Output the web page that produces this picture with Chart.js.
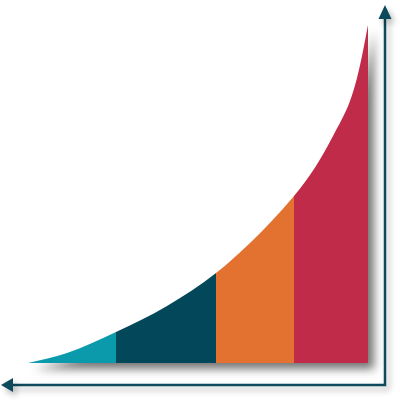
<!DOCTYPE html>
<html>
<head>
<meta charset="utf-8">
<script src="https://cdn.jsdelivr.net/npm/chart.js@4/dist/chart.umd.min.js"></script>
<style>
    html, body { margin: 0; padding: 0; background: #ffffff; }
    canvas { display: block; }
</style>
</head>
<body>
<canvas id="graficoCrecimiento" width="400" height="400"></canvas>
<script>
// curva (x = avance, y = altura)
const puntosX = [0, 39, 88, 139, 188, 222, 266, 288, 305, 322, 329, 335, 340];
const puntosY = [0, 10, 31, 57, 90, 120, 167, 197, 227, 262, 285, 312, 338];

// tramos de color: donde termina cada uno
const etapas = ['Etapa 1', 'Etapa 2', 'Etapa 3', 'Etapa 4'];
const finEtapas = [88, 188, 266, 340];
const coloresEtapas = ['#0b9aab', '#03475a', '#e3712f', '#c02b4a'];

const colorEje = '#0d4a5b';

function colorTramo(ctx) {
    const x = puntosX[ctx.p0DataIndex];
    const i = finEtapas.findIndex(fin => x < fin);
    return coloresEtapas[i === -1 ? coloresEtapas.length - 1 : i];
}

// traza la curva completa como un solo tramo (path() la corta por colores)
function trazarCurva(ctx, linea) {
    const n = linea.points.length;
    linea.pathSegment(ctx, { start: 0, end: n - 1, loop: false }, { move: true });
}

// sombra debajo de toda el area (recortada para que no asome sobre la curva)
const sombraArea = {
    id: 'sombraArea',
    beforeDatasetsDraw(chart) {
        const meta = chart.getDatasetMeta(0);
        const linea = meta.dataset;
        const pts = meta.data;
        const ultimo = pts[pts.length - 1];
        const base = chart.scales.y.getPixelForValue(0);
        const { ctx, width, height } = chart;
        ctx.save();
        // zona permitida: por debajo de la curva (corrida un poco) y a la derecha del final
        ctx.save();
        ctx.translate(0, 2);
        ctx.beginPath();
        trazarCurva(ctx, linea);
        ctx.lineTo(width, ultimo.y);
        ctx.lineTo(width, height);
        ctx.lineTo(0, height);
        ctx.lineTo(0, pts[0].y);
        ctx.closePath();
        ctx.restore();
        ctx.clip();

        ctx.shadowColor = 'rgba(0, 0, 0, 0.55)';
        ctx.shadowBlur = 10;
        ctx.shadowOffsetX = 6;
        ctx.shadowOffsetY = 6;
        ctx.fillStyle = '#ffffff';
        ctx.beginPath();
        trazarCurva(ctx, linea);
        ctx.lineTo(ultimo.x, base);
        ctx.lineTo(pts[0].x, base);
        ctx.closePath();
        ctx.fill();
        ctx.restore();
    }
};

// ejes con flechas (derecha hacia arriba, abajo hacia la izquierda)
const ejesFlecha = {
    id: 'ejesFlecha',
    afterDraw(chart) {
        const { ctx, chartArea } = chart;
        const ex = chartArea.right + 17;
        const ey = chartArea.bottom + 22;
        const topeY = chartArea.top - 20;
        const topeX = chartArea.left - 27;
        ctx.save();
        ctx.shadowColor = 'rgba(0, 0, 0, 0.3)';
        ctx.shadowBlur = 6;
        ctx.shadowOffsetX = 3;
        ctx.shadowOffsetY = 4;
        ctx.strokeStyle = colorEje;
        ctx.fillStyle = colorEje;
        ctx.lineWidth = 2.5;
        ctx.lineJoin = 'miter';
        ctx.beginPath();
        ctx.moveTo(ex, topeY + 14);
        ctx.lineTo(ex, ey);
        ctx.lineTo(topeX + 11, ey);
        ctx.stroke();

        ctx.beginPath();
        ctx.moveTo(ex, topeY);
        ctx.lineTo(ex + 6.5, topeY + 14);
        ctx.lineTo(ex - 6.5, topeY + 14);
        ctx.closePath();
        ctx.fill();

        ctx.beginPath();
        ctx.moveTo(topeX, ey);
        ctx.lineTo(topeX + 12, ey - 7);
        ctx.lineTo(topeX + 12, ey + 7);
        ctx.closePath();
        ctx.fill();
        ctx.restore();
    }
};

const ctx = document.getElementById('graficoCrecimiento').getContext('2d');
new Chart(ctx, {
    type: 'line',
    data: {
        datasets: [{
            label: 'Crecimiento',
            data: puntosX.map((x, i) => ({ x: x, y: puntosY[i] })),
            fill: 'origin',
            backgroundColor: coloresEtapas[0],
            borderWidth: 0,
            pointRadius: 0,
            cubicInterpolationMode: 'monotone',
            segment: {
                backgroundColor: colorTramo
            }
        }]
    },
    options: {
        responsive: false,
        animation: false,
        devicePixelRatio: 1,
        layout: {
            padding: { left: 28, top: 25, right: 32, bottom: 37 }
        },
        plugins: {
            legend: { display: false },
            tooltip: { enabled: false }
        },
        scales: {
            x: { type: 'linear', min: 0, max: 340, display: false },
            y: { min: 0, max: 338, display: false }
        }
    },
    plugins: [sombraArea, ejesFlecha]
});
</script>
</body>
</html>
